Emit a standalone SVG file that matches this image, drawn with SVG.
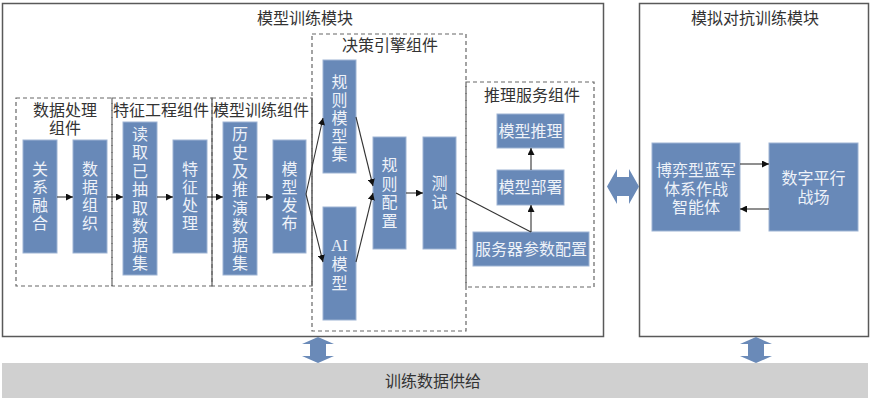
<svg xmlns="http://www.w3.org/2000/svg" width="872" height="400" viewBox="0 0 872 400">
<defs>
<style>
.mod{fill:#fff;stroke:#595959;stroke-width:1.5}
.grp{fill:none;stroke:#666;stroke-width:1.2;stroke-dasharray:4 3}
.sol{stroke:#7a7a7a;stroke-width:1.5}
.box{fill:#6889b8;stroke:#9db3d3;stroke-width:1}
.t{font-family:"Liberation Serif","Noto Sans CJK SC",serif;font-size:16px;fill:#333;text-anchor:middle}
.w{font-family:"Liberation Serif","Noto Sans CJK SC",serif;font-size:16px;fill:#eef2f8;text-anchor:middle}
.c{stroke:#333;stroke-width:1.1;fill:none}
.big{fill:#6a8ab8}
</style>
<marker id="ah" viewBox="0 0 10 10" refX="10" refY="5" markerWidth="7" markerHeight="7" orient="auto" markerUnits="userSpaceOnUse">
<path d="M0,0 L10,5 L0,10 z" fill="#111"/>
</marker>
</defs>

<g id="training-module">
<rect class="mod" x="2.5" y="3.5" width="601" height="333"/>
<text class="t" x="305" y="24">模型训练模块</text>
</g>
<g id="adversarial-module">
<rect class="mod" x="639.5" y="3.5" width="229" height="333"/>
<text class="t" x="755" y="24">模拟对抗训练模块</text>
</g>
<g id="data-supply">
<rect x="2" y="363" width="866" height="35" fill="#d0d0d0"/>
<text class="t" x="433" y="387">训练数据供给</text>
</g>

<g id="group-data-processing">
<rect class="grp" x="16" y="98" width="96" height="188"/>
<text class="t" x="65" y="116">数据处理</text>
<text class="t" x="65" y="134">组件</text>
</g>
<g id="group-feature">
<rect class="grp" x="112" y="98" width="100" height="188"/>
<text class="t" x="161" y="116">特征工程组件</text>
</g>
<g id="group-model-training">
<rect class="grp" x="212" y="98" width="100" height="188"/>
<line class="sol" x1="212" y1="98" x2="212" y2="286"/>
<line class="sol" x1="312" y1="98" x2="312" y2="286"/>
<text class="t" x="261" y="116">模型训练组件</text>
</g>
<g id="group-decision">
<rect class="grp" x="312" y="34" width="154" height="297"/>
<text class="t" x="390" y="51">决策引擎组件</text>
</g>
<g id="group-inference">
<rect class="grp" x="466" y="82" width="128" height="205"/>
<text class="t" x="532" y="101">推理服务组件</text>
</g>

<g id="n-relation">
<rect class="box" x="23" y="140" width="34" height="113"/>
<text class="w"><tspan x="40" y="175">关</tspan><tspan x="40" y="193">系</tspan><tspan x="40" y="211">融</tspan><tspan x="40" y="229">合</tspan></text>
</g>
<g id="n-organize">
<rect class="box" x="73" y="140" width="34" height="113"/>
<text class="w"><tspan x="90" y="175">数</tspan><tspan x="90" y="193">据</tspan><tspan x="90" y="211">组</tspan><tspan x="90" y="229">织</tspan></text>
</g>
<g id="n-read">
<rect class="box" x="123" y="122" width="34" height="153"/>
<text class="w"><tspan x="140" y="139.5">读</tspan><tspan x="140" y="158">取</tspan><tspan x="140" y="176.5">已</tspan><tspan x="140" y="195">抽</tspan><tspan x="140" y="213.5">取</tspan><tspan x="140" y="232">数</tspan><tspan x="140" y="250.5">据</tspan><tspan x="140" y="269">集</tspan></text>
</g>
<g id="n-feature">
<rect class="box" x="173" y="140" width="34" height="113"/>
<text class="w"><tspan x="190" y="175">特</tspan><tspan x="190" y="193">征</tspan><tspan x="190" y="211">处</tspan><tspan x="190" y="229">理</tspan></text>
</g>
<g id="n-history">
<rect class="box" x="223" y="122" width="34" height="153"/>
<text class="w"><tspan x="240" y="139.5">历</tspan><tspan x="240" y="158">史</tspan><tspan x="240" y="176.5">及</tspan><tspan x="240" y="195">推</tspan><tspan x="240" y="213.5">演</tspan><tspan x="240" y="232">数</tspan><tspan x="240" y="250.5">据</tspan><tspan x="240" y="269">集</tspan></text>
</g>
<g id="n-publish">
<rect class="box" x="273" y="140" width="33" height="113"/>
<text class="w"><tspan x="289.5" y="175">模</tspan><tspan x="289.5" y="193">型</tspan><tspan x="289.5" y="211">发</tspan><tspan x="289.5" y="229">布</tspan></text>
</g>
<g id="n-rule-set">
<rect class="box" x="323" y="60" width="33" height="113"/>
<text class="w"><tspan x="339.5" y="88">规</tspan><tspan x="339.5" y="106">则</tspan><tspan x="339.5" y="124">模</tspan><tspan x="339.5" y="142">型</tspan><tspan x="339.5" y="160">集</tspan></text>
</g>
<g id="n-ai">
<rect class="box" x="323" y="207" width="33" height="113"/>
<text class="w"><tspan x="339.5" y="251">AI</tspan><tspan x="339.5" y="270">模</tspan><tspan x="339.5" y="289">型</tspan></text>
</g>
<g id="n-rule-config">
<rect class="box" x="373" y="137" width="33" height="112"/>
<text class="w"><tspan x="389.5" y="171">规</tspan><tspan x="389.5" y="189.5">则</tspan><tspan x="389.5" y="208">配</tspan><tspan x="389.5" y="226.5">置</tspan></text>
</g>
<g id="n-test">
<rect class="box" x="423" y="137" width="33" height="112"/>
<text class="w"><tspan x="439.5" y="189">测</tspan><tspan x="439.5" y="207.5">试</tspan></text>
</g>
<g id="n-infer">
<rect class="box" x="497" y="114" width="67" height="34"/>
<text class="w" x="530.5" y="136.5">模型推理</text>
</g>
<g id="n-deploy">
<rect class="box" x="497" y="170" width="67" height="35"/>
<text class="w" x="530.5" y="193">模型部署</text>
</g>
<g id="n-server">
<rect class="box" x="473" y="232" width="116" height="34"/>
<text class="w" x="531" y="254.5">服务器参数配置</text>
</g>
<g id="n-agent">
<rect class="box" x="652" y="143" width="88" height="88"/>
<text class="w"><tspan x="696" y="175.5">博弈型蓝军</tspan><tspan x="696" y="194.5">体系作战</tspan><tspan x="696" y="213">智能体</tspan></text>
</g>
<g id="n-battlefield">
<rect class="box" x="769" y="143" width="89" height="88"/>
<text class="w"><tspan x="813.5" y="183.5">数字平行</tspan><tspan x="813.5" y="202.5">战场</tspan></text>
</g>

<g id="connectors">
<line class="c" x1="57" y1="197" x2="73" y2="197" marker-end="url(#ah)"/>
<line class="c" x1="107" y1="197" x2="123" y2="197" marker-end="url(#ah)"/>
<line class="c" x1="157" y1="197" x2="173" y2="197" marker-end="url(#ah)"/>
<line class="c" x1="207" y1="197" x2="223" y2="197" marker-end="url(#ah)"/>
<line class="c" x1="257" y1="197" x2="273" y2="197" marker-end="url(#ah)"/>
<line class="c" x1="306" y1="194" x2="323" y2="118" marker-end="url(#ah)"/>
<line class="c" x1="306" y1="194" x2="323" y2="262" marker-end="url(#ah)"/>
<line class="c" x1="356" y1="117" x2="373" y2="186" marker-end="url(#ah)"/>
<line class="c" x1="356" y1="262" x2="373" y2="193" marker-end="url(#ah)"/>
<line class="c" x1="406" y1="193" x2="423" y2="193" marker-end="url(#ah)"/>
<line class="c" x1="456" y1="193" x2="531" y2="232"/>
<line class="c" x1="531" y1="232" x2="531" y2="205" marker-end="url(#ah)"/>
<line class="c" x1="531" y1="170" x2="531" y2="148" marker-end="url(#ah)"/>
<line class="c" x1="740" y1="164" x2="769" y2="164" marker-end="url(#ah)"/>
<line class="c" x1="769" y1="209" x2="740" y2="209" marker-end="url(#ah)"/>
<polygon class="big" points="607,186.5 617,169 617,177 629,177 629,169 639,186.5 629,204 629,196 617,196 617,204"/>
<polygon class="big" points="318,337 334,344 326,344 326,356 334,356 318,363 302,356 310,356 310,344 302,344"/>
<polygon class="big" points="756,337 772,344 764,344 764,356 772,356 756,363 740,356 748,356 748,344 740,344"/>
</g>
</svg>
